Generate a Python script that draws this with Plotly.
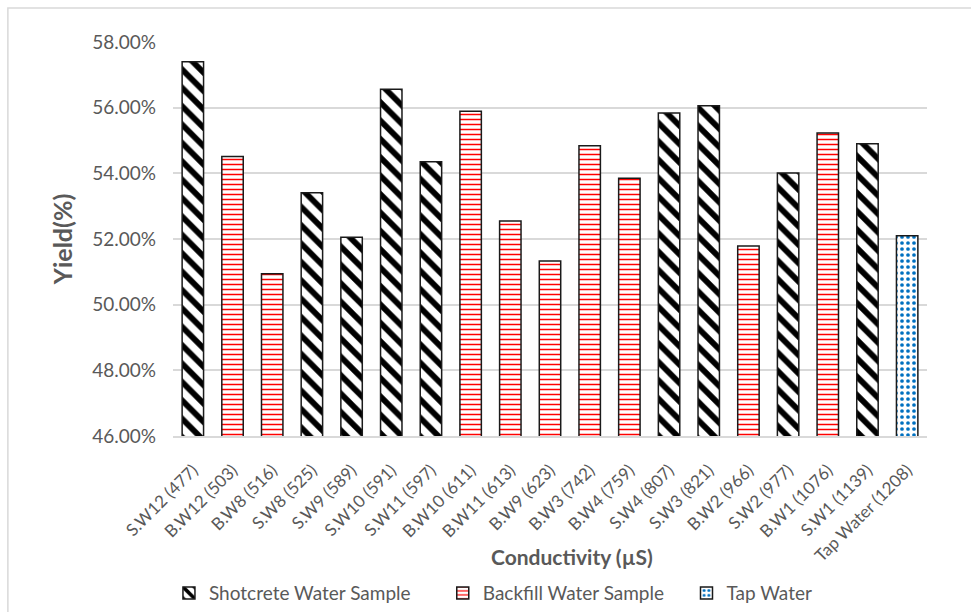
import plotly.graph_objects as go

categories = ["S.W12 (477)", "B.W12 (503)", "B.W8 (516)", "S.W8 (525)", "S.W9 (589)",
              "S.W10 (591)", "S.W11 (597)", "B.W10 (611)", "B.W11 (613)", "B.W9 (623)",
              "B.W3 (742)", "B.W4 (759)", "S.W4 (807)", "S.W3 (821)", "B.W2 (966)",
              "S.W2 (977)", "B.W1 (1076)", "S.W1 (1139)", "Tap Water (1208)"]

shot_x = ["S.W12 (477)", "S.W8 (525)", "S.W9 (589)", "S.W10 (591)", "S.W11 (597)",
          "S.W4 (807)", "S.W3 (821)", "S.W2 (977)", "S.W1 (1139)"]
shot_y = [0.5740, 0.5341, 0.5205, 0.5656, 0.5435, 0.5584, 0.5606, 0.5401, 0.5490]

back_x = ["B.W12 (503)", "B.W8 (516)", "B.W10 (611)", "B.W11 (613)", "B.W9 (623)",
          "B.W3 (742)", "B.W4 (759)", "B.W2 (966)", "B.W1 (1076)"]
back_y = [0.5451, 0.5094, 0.5589, 0.5255, 0.5133, 0.5484, 0.5385, 0.5179, 0.5523]

tap_x = ["Tap Water (1208)"]
tap_y = [0.5210]

yticks = [0.46, 0.48, 0.50, 0.52, 0.54, 0.56, 0.58]

FONT = "Lato"
GRAY = "#595959"
EDGE = dict(color="#1a1a1a", width=1.5)
BW = 0.54

fig = go.Figure()
fig.add_trace(go.Bar(
    x=shot_x, y=shot_y, name="Shotcrete Water Sample", width=BW, showlegend=True,
    marker=dict(color="white", line=EDGE,
                pattern=dict(shape="\\", fgcolor="black", bgcolor="white",
                             fgopacity=1, size=13, solidity=0.45, fillmode="overlay")),
    legend="legend"))
fig.add_trace(go.Bar(
    x=back_x, y=back_y, name="Backfill Water Sample", width=BW, showlegend=True,
    marker=dict(color="white", line=EDGE,
                pattern=dict(shape="-", fgcolor="#FF0000", bgcolor="white",
                             fgopacity=1, size=5, solidity=0.3, fillmode="overlay")),
    legend="legend2"))
fig.add_trace(go.Bar(
    x=tap_x, y=tap_y, name="Tap Water", width=BW, showlegend=True,
    marker=dict(color="white", line=EDGE,
                pattern=dict(shape=".", fgcolor="#0070C0", bgcolor="white",
                             fgopacity=1, size=6, solidity=0.3, fillmode="overlay")),
    legend="legend3"))

legend_common = dict(orientation="h", yanchor="middle", xanchor="left",
                     xref="container", yref="container", y=0.031,
                     font=dict(family=FONT, size=19, color=GRAY),
                     bgcolor="rgba(0,0,0,0)")

fig.update_layout(
    width=971, height=612,
    margin=dict(l=173, r=44, t=42, b=176, autoexpand=False),
    paper_bgcolor="white", plot_bgcolor="white",
    barmode="overlay", showlegend=True,
    font=dict(family=FONT, color=GRAY),
    legend=dict(x=0.174, **legend_common),
    legend2=dict(x=0.456, **legend_common),
    legend3=dict(x=0.707, **legend_common),
    xaxis=dict(categoryorder="array", categoryarray=categories,
               tickangle=-45, tickfont=dict(family=FONT, size=17, color=GRAY),
               showline=True, linecolor="#D9D9D9", linewidth=1.5,
               showgrid=False, ticks="", ticklabelstandoff=16, automargin=False),
    yaxis=dict(range=[0.46, 0.58], tickvals=yticks, tickformat=".2%",
               tickfont=dict(family=FONT, size=19, color=GRAY),
               showgrid=True, gridcolor="#D9D9D9", gridwidth=1.5,
               zeroline=False, showline=False, ticks="", ticklabelstandoff=16,
               automargin=False,
               title=dict(text="Yield(%)", standoff=12,
                          font=dict(family=FONT, size=25, color=GRAY, weight="bold"))),
    annotations=[dict(text="Conductivity (µS)", xref="paper", yref="paper",
                      x=0.529, y=-0.305, xanchor="center", yanchor="middle",
                      showarrow=False,
                      font=dict(family=FONT, size=21, color=GRAY, weight="bold"))],
    shapes=[dict(type="rect", xref="paper", yref="paper",
                 x0=-0.219, x1=1.2, y0=-0.6, y1=1.086,
                 line=dict(color="#D9D9D9", width=1.5), layer="below")],
)

fig.write_html("out.html")
